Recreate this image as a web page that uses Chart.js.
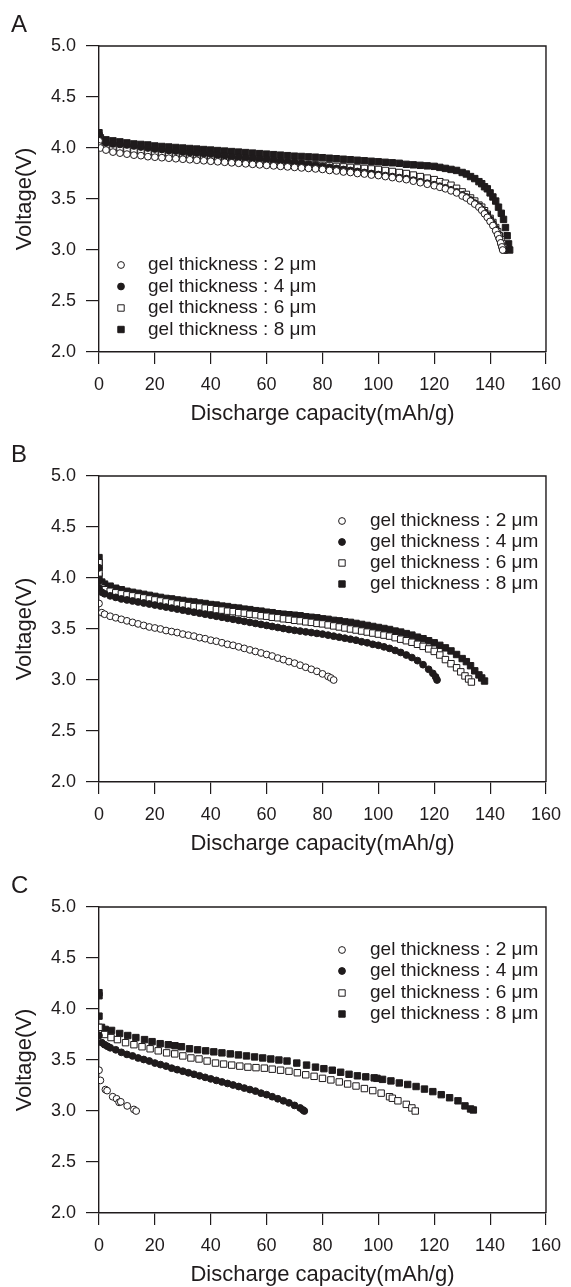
<!DOCTYPE html>
<html>
<head>
<meta charset="utf-8">
<script src="https://cdn.jsdelivr.net/npm/chart.js"></script>
<style>
    html, body { margin: 0; padding: 0; background: #fff; overflow: hidden; }
    #page { position: relative; width: 571px; height: 1287px; }
    .panel { position: absolute; left: 0; width: 571px; height: 430px; }
    .panel canvas { position: absolute; left: 0; top: 0; }
    .tag {
        position: absolute; left: 11px; top: 12px;
        font: 24px "Liberation Sans", Arial, sans-serif; line-height: 24px; color: #1f1b1c;
    }
</style>
</head>
<body>
<div id="page">
    <div class="panel" style="top:0px"><canvas id="panelA" width="571" height="430"></canvas><div class="tag">A</div></div>
    <div class="panel" style="top:430px"><canvas id="panelB" width="571" height="430"></canvas><div class="tag">B</div></div>
    <div class="panel" style="top:861px"><canvas id="panelC" width="571" height="430"></canvas><div class="tag">C</div></div>
</div>
<script>
/* ── 数据：放电容量 (mAh/g) / 电压 (V) ── */

const seriesLabels = ['gel thickness : 2 μm', 'gel thickness : 4 μm', 'gel thickness : 6 μm', 'gel thickness : 8 μm'];
const xTicks = [0, 20, 40, 60, 80, 100, 120, 140, 160];
const yTicks = [2.0, 2.5, 3.0, 3.5, 4.0, 4.5, 5.0];

// 面板 A
const A_2um = [[0,4.07],[0,4.02],[0.5,4.00],[2.5,3.98],[5,3.96],[7.5,3.95],[10,3.94],[12.5,3.93],[15,3.925],[17.5,3.915],[20,3.91],[22.5,3.905],[25,3.90],[27.5,3.895],[30,3.89],[32.5,3.885],[35,3.88],[37.5,3.875],[40,3.87],[42.5,3.865],[45,3.86],[47.5,3.855],[50,3.85],[52.5,3.845],[55,3.84],[57.5,3.835],[60,3.83],[62.5,3.825],[65,3.82],[67.5,3.815],[70,3.81],[72.5,3.805],[75,3.80],[77.5,3.795],[80,3.79],[82.5,3.78],[85,3.775],[87.5,3.765],[90,3.76],[92.5,3.75],[95,3.745],[97.5,3.735],[100,3.73],[102.5,3.72],[105,3.71],[107.5,3.70],[110,3.69],[112.5,3.675],[115,3.66],[117.5,3.645],[120,3.63],[122,3.615],[124,3.60],[126,3.58],[128,3.56],[130,3.53],[131.5,3.51],[133,3.48],[134.5,3.45],[136,3.42],[137,3.39],[138,3.355],[139,3.32],[140,3.28],[141,3.24],[142,3.19],[142.7,3.15],[143.3,3.11],[143.8,3.07],[144.2,3.03],[144.5,3.0]];
const A_4um = [[0,4.13],[0,4.08],[0.5,4.07],[2.5,4.05],[5,4.04],[7.5,4.035],[10,4.03],[12.5,4.02],[15,4.01],[17.5,4.0],[20,3.99],[22.5,3.985],[25,3.975],[27.5,3.97],[30,3.96],[32.5,3.955],[35,3.95],[37.5,3.945],[40,3.94],[42.5,3.93],[45,3.925],[47.5,3.915],[50,3.91],[52.5,3.905],[55,3.90],[57.5,3.895],[60,3.89],[62.5,3.88],[65,3.875],[67.5,3.865],[70,3.86],[72.5,3.85],[75,3.84],[77.5,3.83],[80,3.82],[82.5,3.81],[85,3.80],[87.5,3.79],[90,3.78],[92.5,3.77],[95,3.76],[97.5,3.75],[100,3.74],[102.5,3.73],[105,3.72],[107.5,3.71],[110,3.70],[112.5,3.685],[115,3.67],[117.5,3.655],[120,3.64],[122,3.625],[124,3.61],[126,3.59],[128,3.57],[130,3.54],[131.5,3.52],[133,3.49],[134.5,3.46],[136,3.43],[137,3.40],[138,3.37],[139,3.34],[140,3.30],[141,3.26],[142,3.21],[142.7,3.16],[143.3,3.11],[143.9,3.06],[144.4,3.02],[144.8,3.0],[145.4,3.0]];
const A_6um = [[0,4.10],[0,4.04],[0.5,4.03],[2.5,4.01],[5,4.00],[7.5,3.99],[10,3.98],[12.5,3.97],[15,3.965],[17.5,3.955],[20,3.95],[22.5,3.945],[25,3.94],[27.5,3.935],[30,3.93],[32.5,3.925],[35,3.92],[37.5,3.915],[40,3.91],[42.5,3.905],[45,3.90],[47.5,3.895],[50,3.89],[52.5,3.885],[55,3.88],[57.5,3.875],[60,3.87],[62.5,3.865],[65,3.86],[67.5,3.855],[70,3.85],[72.5,3.845],[75,3.84],[77.5,3.835],[80,3.83],[82.5,3.825],[85,3.82],[87.5,3.815],[90,3.81],[92.5,3.805],[95,3.80],[97.5,3.795],[100,3.79],[102.5,3.78],[105,3.77],[107.5,3.76],[110,3.75],[112.5,3.735],[115,3.72],[117.5,3.705],[120,3.69],[122,3.67],[124,3.655],[126,3.635],[128,3.605],[130,3.57],[131.5,3.545],[133,3.51],[134.5,3.48],[136,3.44],[137,3.42],[138,3.385],[139,3.35],[140,3.31],[141,3.27],[142,3.22],[142.7,3.18],[143.3,3.14],[143.9,3.10],[144.4,3.06],[144.8,3.02],[145.2,3.0]];
const A_8um = [[0,4.15],[0,4.12],[0.5,4.10],[2.5,4.08],[5,4.07],[7.5,4.06],[10,4.05],[12.5,4.04],[15,4.035],[17.5,4.03],[20,4.02],[22.5,4.015],[25,4.01],[27.5,4.005],[30,4.00],[32.5,3.995],[35,3.99],[37.5,3.985],[40,3.98],[42.5,3.975],[45,3.97],[47.5,3.965],[50,3.96],[52.5,3.955],[55,3.95],[57.5,3.945],[60,3.94],[62.5,3.935],[65,3.93],[67.5,3.925],[70,3.92],[72.5,3.917],[75,3.913],[77.5,3.91],[80,3.905],[82.5,3.90],[85,3.895],[87.5,3.89],[90,3.885],[92.5,3.88],[95,3.875],[97.5,3.87],[100,3.865],[102.5,3.86],[105,3.855],[107.5,3.85],[110,3.84],[112.5,3.835],[115,3.83],[117.5,3.825],[120,3.82],[122,3.81],[124,3.80],[126,3.79],[128,3.78],[130,3.76],[131.5,3.745],[133,3.72],[134.5,3.70],[136,3.67],[137,3.65],[138,3.62],[139,3.60],[140,3.56],[141,3.52],[142,3.48],[143,3.42],[144,3.36],[144.8,3.30],[145.5,3.22],[146.1,3.14],[146.6,3.06],[147,3.0]];

// 面板 B
const B_2um = [[0,3.75],[1,3.66],[2,3.645],[4,3.625],[6,3.61],[8,3.595],[10,3.58],[12,3.565],[14,3.55],[16,3.535],[18,3.52],[20,3.51],[22,3.50],[24,3.485],[26,3.475],[28,3.465],[30,3.45],[32,3.44],[34,3.43],[36,3.415],[38,3.405],[40,3.39],[42,3.38],[44,3.365],[46,3.35],[48,3.34],[50,3.325],[52,3.31],[54,3.295],[56,3.28],[58,3.265],[60,3.25],[62,3.235],[64,3.215],[66,3.20],[68,3.18],[70,3.165],[72,3.145],[74,3.125],[76,3.105],[78,3.085],[80,3.06],[82,3.035],[83,3.02],[84,3.0]];
const B_4um = [[0,4.10],[0,3.97],[0,3.90],[1,3.86],[2,3.845],[4,3.825],[6,3.81],[8,3.795],[10,3.785],[12,3.775],[14,3.765],[16,3.755],[18,3.745],[20,3.735],[22,3.725],[24,3.715],[26,3.705],[28,3.695],[30,3.685],[32,3.675],[34,3.665],[36,3.655],[38,3.645],[40,3.635],[42,3.625],[44,3.615],[46,3.605],[48,3.595],[50,3.585],[52,3.575],[54,3.565],[56,3.555],[58,3.545],[60,3.535],[62,3.525],[64,3.515],[66,3.505],[68,3.495],[70,3.487],[72,3.48],[74,3.472],[76,3.465],[78,3.457],[80,3.45],[82,3.44],[84,3.43],[86,3.42],[88,3.41],[90,3.40],[92,3.39],[94,3.375],[96,3.365],[98,3.35],[100,3.34],[102,3.325],[104,3.31],[106,3.29],[108,3.27],[110,3.245],[112,3.22],[114,3.19],[116,3.15],[118,3.105],[119.5,3.065],[120.5,3.03],[121,3.0]];
const B_6um = [[0,4.15],[0,4.05],[0,3.93],[1,3.90],[2,3.885],[4,3.87],[6,3.855],[8,3.845],[10,3.835],[12,3.825],[14,3.815],[16,3.805],[18,3.795],[20,3.785],[22,3.775],[24,3.765],[26,3.755],[28,3.745],[30,3.74],[32,3.73],[34,3.72],[36,3.715],[38,3.705],[40,3.70],[42,3.69],[44,3.685],[46,3.675],[48,3.67],[50,3.66],[52,3.655],[54,3.645],[56,3.64],[58,3.63],[60,3.625],[62,3.615],[64,3.61],[66,3.60],[68,3.595],[70,3.585],[72,3.58],[74,3.57],[76,3.565],[78,3.555],[80,3.55],[82,3.54],[84,3.53],[86,3.52],[88,3.51],[90,3.50],[92,3.49],[94,3.48],[96,3.47],[98,3.46],[100,3.45],[102,3.44],[104,3.43],[106,3.415],[108,3.40],[110,3.385],[112,3.37],[114,3.35],[116,3.33],[118,3.305],[120,3.28],[122,3.245],[124,3.20],[126,3.16],[128,3.12],[129.5,3.08],[131,3.04],[132.3,3.01],[133.3,2.98]];
const B_8um = [[0,4.20],[0,4.15],[0,4.10],[0,4.02],[1,3.96],[2,3.94],[4,3.92],[6,3.90],[8,3.885],[10,3.87],[12,3.86],[14,3.85],[16,3.84],[18,3.83],[20,3.82],[22,3.81],[24,3.80],[26,3.795],[28,3.785],[30,3.78],[32,3.77],[34,3.765],[36,3.755],[38,3.75],[40,3.74],[42,3.735],[44,3.725],[46,3.72],[48,3.71],[50,3.705],[52,3.695],[54,3.69],[56,3.68],[58,3.675],[60,3.665],[62,3.66],[64,3.65],[66,3.645],[68,3.64],[70,3.635],[72,3.63],[74,3.62],[76,3.615],[78,3.61],[80,3.60],[82,3.595],[84,3.585],[86,3.58],[88,3.57],[90,3.565],[92,3.555],[94,3.545],[96,3.535],[98,3.525],[100,3.515],[102,3.505],[104,3.495],[106,3.48],[108,3.47],[110,3.455],[112,3.44],[114,3.42],[116,3.405],[118,3.385],[120,3.365],[122,3.34],[124,3.315],[126,3.285],[128,3.25],[130,3.21],[131.5,3.18],[133,3.14],[134.5,3.09],[136,3.05],[137,3.02],[138,2.99]];

// 面板 C
const C_2um = [[0,3.40],[0.5,3.30],[2.3,3.21],[2.9,3.20],[4.9,3.14],[6.3,3.12],[7.2,3.085],[7.8,3.09],[10.1,3.05],[12.5,3.015],[13.3,3.0]];
const C_4um = [[0,3.74],[1,3.67],[2,3.65],[3,3.635],[4,3.62],[6,3.60],[8,3.575],[10,3.555],[12,3.54],[14,3.52],[16,3.505],[18,3.49],[20,3.47],[22,3.455],[24,3.44],[26,3.42],[28,3.405],[30,3.39],[32,3.375],[34,3.36],[36,3.345],[38,3.33],[40,3.315],[42,3.30],[44,3.285],[46,3.27],[48,3.255],[50,3.24],[52,3.225],[54,3.21],[56,3.195],[58,3.175],[60,3.16],[62,3.14],[64,3.12],[66,3.10],[68,3.08],[70,3.055],[72,3.03],[73,3.01],[73.5,3.0]];
const C_6um = [[0,3.82],[2,3.75],[4.3,3.72],[6.6,3.70],[9.5,3.67],[12.5,3.65],[15.4,3.63],[18.3,3.61],[21.2,3.59],[24.2,3.57],[27.1,3.56],[30,3.54],[32.9,3.52],[35.8,3.51],[38.7,3.49],[41.7,3.47],[44.6,3.46],[47.5,3.45],[50.4,3.44],[53.3,3.43],[56.2,3.425],[59.2,3.42],[62,3.41],[65,3.40],[68,3.39],[71,3.375],[74,3.355],[77,3.34],[80,3.32],[83,3.305],[86,3.285],[89,3.265],[92,3.245],[95,3.22],[98,3.20],[101,3.175],[104,3.14],[105,3.125],[107,3.10],[110,3.065],[112,3.03],[113.2,3.0]];
const C_8um = [[0,4.16],[0,4.13],[0,3.93],[0.9,3.82],[2.2,3.80],[4.5,3.79],[7.4,3.76],[10.3,3.74],[13.2,3.72],[16.3,3.70],[19,3.68],[21.9,3.66],[24.8,3.65],[27.2,3.64],[29.5,3.63],[32.4,3.61],[35.3,3.60],[38.2,3.59],[41.1,3.58],[44,3.57],[47,3.56],[49.9,3.55],[52.8,3.54],[55.7,3.53],[58.6,3.52],[61.5,3.51],[64.4,3.50],[67.3,3.49],[70.8,3.47],[74.3,3.45],[77.5,3.43],[80.5,3.415],[83.5,3.40],[86.5,3.38],[89.5,3.36],[92.5,3.345],[95.5,3.335],[98.5,3.325],[99.5,3.32],[101.5,3.31],[104.5,3.295],[107.5,3.275],[110.5,3.26],[113.5,3.24],[116.5,3.215],[119.5,3.19],[122.5,3.16],[125.5,3.13],[128.5,3.10],[131,3.05],[133,3.02],[134,3.01]];

/* ── 样式 ── */
const INK = '#1f1b1c';
const FONT = '"Liberation Sans", Arial, sans-serif';
const MARKERS = [
    { style: 'circle', filled: false },
    { style: 'circle', filled: true },
    { style: 'rect', filled: false },
    { style: 'rect', filled: true },
];
const CIRCLE_R = 3.4;
const SQUARE_SIDE = 6.4;

Chart.defaults.font.family = FONT;
Chart.defaults.color = INK;

function drawMarker(ctx, m, x, y) {
    ctx.save();
    ctx.lineWidth = 1;
    ctx.strokeStyle = INK;
    ctx.fillStyle = m.filled ? INK : '#fff';
    ctx.beginPath();
    if (m.style === 'circle') {
        ctx.arc(x, y, CIRCLE_R, 0, Math.PI * 2);
    } else {
        const h = SQUARE_SIDE / 2;
        ctx.rect(x - h, y - h, SQUARE_SIDE, SQUARE_SIDE);
    }
    ctx.fill();
    ctx.stroke();
    ctx.restore();
}

// 上、右边框
const framePlugin = {
    id: 'frame',
    afterDraw(chart) {
        const { ctx, chartArea: a } = chart;
        ctx.save();
        ctx.strokeStyle = INK;
        ctx.lineWidth = 1.4;
        ctx.beginPath();
        ctx.moveTo(a.left, a.top);
        ctx.lineTo(a.right, a.top);
        ctx.lineTo(a.right, a.bottom);
        ctx.stroke();
        ctx.restore();
    },
};

// 图内图例
const gelLegendPlugin = {
    id: 'gelLegend',
    afterDatasetsDraw(chart, args, opts) {
        const ctx = chart.ctx;
        ctx.save();
        ctx.font = '19px ' + FONT;
        ctx.textBaseline = 'middle';
        ctx.textAlign = 'left';
        seriesLabels.forEach((label, i) => {
            const y = opts.rows[i];
            drawMarker(ctx, MARKERS[i], opts.x, y);
            ctx.fillStyle = INK;
            ctx.fillText(label, opts.textX, y);
        });
        ctx.restore();
    },
};

function buildPanel(canvasId, series, legend) {
    const canvas = document.getElementById(canvasId);
    const datasets = series.map((pts, i) => {
        const m = MARKERS[i];
        return {
            label: seriesLabels[i],
            data: pts.map(p => ({ x: p[0], y: p[1] })),
            showLine: false,
            pointStyle: m.style,
            pointRadius: m.style === 'rect' ? SQUARE_SIDE / 2 / Math.SQRT1_2 : CIRCLE_R,
            pointBackgroundColor: m.filled ? INK : '#fff',
            pointBorderColor: INK,
            pointBorderWidth: 1,
        };
    });

    return new Chart(canvas, {
        type: 'scatter',
        data: { datasets },
        plugins: [framePlugin, gelLegendPlugin],
        options: {
            responsive: false,
            animation: false,
            layout: { padding: { top: 46, right: 15, bottom: 0, left: 0 } },
            plugins: {
                legend: { display: false },
                tooltip: { enabled: false },
                gelLegend: legend,
            },
            scales: {
                x: {
                    type: 'linear',
                    min: xTicks[0],
                    max: xTicks[xTicks.length - 1],
                    afterBuildTicks: (s) => { s.ticks = xTicks.map(v => ({ value: v })); },
                    afterFit: (s) => { s.height = 78; },
                    ticks: { font: { size: 18 }, color: INK, padding: 10, maxRotation: 0 },
                    grid: { drawOnChartArea: false, tickLength: 12, color: INK, lineWidth: 1.2 },
                    border: { color: INK, width: 1.4 },
                    title: {
                        display: true,
                        text: 'Discharge capacity(mAh/g)',
                        font: { size: 22 },
                        color: INK,
                        padding: { top: 0, bottom: 3 },
                    },
                },
                y: {
                    type: 'linear',
                    min: yTicks[0],
                    max: yTicks[yTicks.length - 1],
                    afterBuildTicks: (s) => { s.ticks = yTicks.map(v => ({ value: v })); },
                    afterFit: (s) => { s.width = 99; },
                    ticks: { font: { size: 18 }, color: INK, padding: 10, callback: (v) => Number(v).toFixed(1) },
                    grid: { drawOnChartArea: false, tickLength: 13, color: INK, lineWidth: 1.2 },
                    border: { color: INK, width: 1.4 },
                    title: {
                        display: true,
                        text: 'Voltage(V)',
                        font: { size: 22 },
                        color: INK,
                        padding: { top: 12, bottom: 0 },
                    },
                },
            },
        },
    });
}

buildPanel('panelA', [A_2um, A_4um, A_6um, A_8um], { x: 121, textX: 148, rows: [265, 286.5, 308, 329.5] });
buildPanel('panelB', [B_2um, B_4um, B_6um, B_8um], { x: 342, textX: 370, rows: [91, 112, 133, 154] });
buildPanel('panelC', [C_2um, C_4um, C_6um, C_8um], { x: 342, textX: 370, rows: [89, 110, 132, 153] });
</script>
</body>
</html>
